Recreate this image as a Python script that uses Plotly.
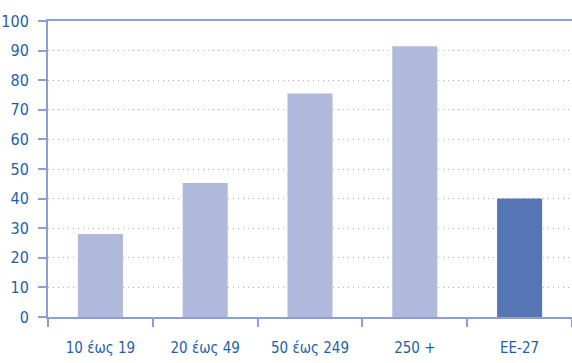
import plotly.graph_objects as go

# Enterprise size classes and share values (%)
categories = ["10 έως 19", "20 έως 49", "50 έως 249", "250 +", "ΕΕ-27"]
values = [28.0, 45.3, 75.5, 91.5, 40.0]
bar_colors = ["#AFB9DC", "#AFB9DC", "#AFB9DC", "#AFB9DC", "#5675B5"]
y_ticks = [0, 10, 20, 30, 40, 50, 60, 70, 80, 90, 100]

axis_color = "#8E9ED3"
text_color = "#1F5FA8"
font_family = "DejaVu Sans Condensed, Liberation Sans Narrow, sans-serif"

fig = go.Figure(
    go.Bar(
        x=categories,
        y=values,
        marker=dict(color=bar_colors, line=dict(width=0)),
        width=0.43,
        hoverinfo="x+y",
    )
)

fig.update_layout(
    width=572,
    height=363,
    margin=dict(l=48, r=0, t=21, b=46),
    paper_bgcolor="white",
    plot_bgcolor="white",
    showlegend=False,
    font=dict(family=font_family, size=15, color=text_color),
)

fig.update_xaxes(
    range=[-0.5, 4.5],
    showline=True,
    linecolor=axis_color,
    linewidth=1.5,
    mirror=True,
    ticks="outside",
    tickson="boundaries",
    ticklen=8,
    tickwidth=1.5,
    tickcolor=axis_color,
    showgrid=False,
    ticklabelstandoff=16,
    tickfont=dict(family=font_family, size=15, color=text_color),
)

fig.update_yaxes(
    range=[0, 100],
    tickvals=y_ticks,
    showline=True,
    linecolor=axis_color,
    linewidth=2,
    ticks="outside",
    ticklen=8,
    tickwidth=2,
    tickcolor=axis_color,
    showgrid=True,
    gridcolor="#9FAEDD",
    gridwidth=1.3,
    griddash="1px,4px",
    zeroline=False,
    ticklabelstandoff=6,
    tickfont=dict(family=font_family, size=16, color=text_color),
)

fig.write_html("out.html")
